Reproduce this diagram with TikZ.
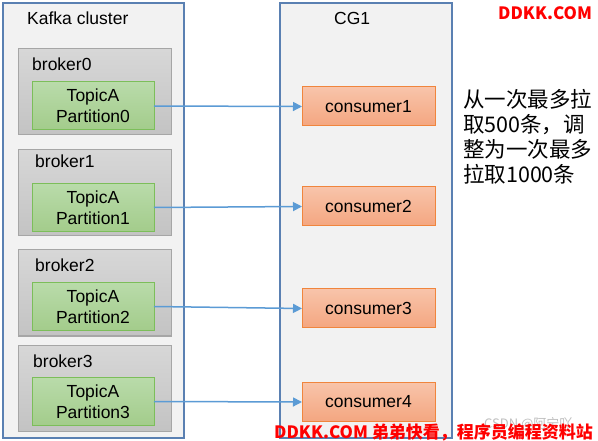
\documentclass[tikz,border=0pt]{standalone}
\usepackage{fontspec}
\setmainfont{Liberation Sans}
\newfontfamily\cjk{Noto Sans CJK SC}
\usetikzlibrary{arrows.meta}
\definecolor{clusterfill}{HTML}{F2F2F2}
\definecolor{clusterline}{HTML}{5A80B2}
\definecolor{brokertop}{HTML}{D7D7D7}
\definecolor{brokerbot}{HTML}{C3C3C3}
\definecolor{brokerline}{HTML}{A6A6A6}
\definecolor{parttop}{HTML}{B9DBAA}
\definecolor{partbot}{HTML}{A3CC8B}
\definecolor{partline}{HTML}{7CBE5A}
\definecolor{constop}{HTML}{F8C4AA}
\definecolor{consbot}{HTML}{F4A680}
\definecolor{consline}{HTML}{F0853D}
\definecolor{arrowblue}{HTML}{5B9BD5}
\definecolor{wmred}{HTML}{FF0000}
\tikzset{
  clusterbox/.style={draw=clusterline, line width=1.4pt, fill=clusterfill, inner sep=0pt, outer sep=0pt},
  brokerbox/.style={draw=brokerline, line width=1pt, top color=brokertop, bottom color=brokerbot, minimum width=153pt, minimum height=86pt, inner sep=0pt, outer sep=0pt},
  partbox/.style={draw=partline, line width=1pt, top color=parttop, bottom color=partbot, minimum width=122pt, minimum height=48pt, inner sep=0pt, outer sep=0pt, align=center, font=\fontsize{17.5}{21}\selectfont},
  consbox/.style={draw=consline, line width=1pt, top color=constop, bottom color=consbot, minimum width=133pt, minimum height=39pt, inner sep=0pt, outer sep=0pt, font=\fontsize{17.5}{21}\selectfont},
  lbl/.style={anchor=base west, inner sep=0pt, font=\fontsize{17.5}{21}\selectfont},
  cnl/.style={anchor=base west, inner sep=0pt, font=\cjk\fontsize{21.5}{25}\selectfont},
  flow/.style={draw=arrowblue, line width=1.5pt, -{Triangle[length=9pt,width=9pt]}},
  wm/.style={anchor=base west, inner sep=0pt, text=wmred, font=\cjk\bfseries\fontsize{17}{20}\selectfont}
}
\begin{document}
\begin{tikzpicture}[x=1pt,y=-1pt]
\useasboundingbox[fill=white] (0,0) rectangle (598,441);
% containers
\node[clusterbox, minimum width=181pt, minimum height=435pt] (kafka) at (93.5,220.5) {};
\node[clusterbox, minimum width=172pt, minimum height=435pt] (cg) at (366,220.5) {};
\node[lbl] (kafkalbl) at (27,25) {Kafka cluster};
\node[lbl] (cglbl) at (334,25) {CG1};
% brokers
\node[brokerbox] (b0) at (94.5,92) {};
\node[brokerbox] (b1) at (94.5,193) {};
\node[brokerbox] (b2) at (94.5,293) {};
\node[brokerbox] (b3) at (94.5,388) {};
\node[lbl] (b0l) at (32,71) {broker0};
\node[lbl] (b1l) at (35,168) {broker1};
\node[lbl] (b2l) at (35,272) {broker2};
\node[lbl] (b3l) at (33,367) {broker3};
% partitions
\node[partbox] (p0) at (93,106) {TopicA\\Partition0};
\node[partbox] (p1) at (93,207.5) {TopicA\\Partition1};
\node[partbox] (p2) at (93,306.5) {TopicA\\Partition2};
\node[partbox] (p3) at (93,401.5) {TopicA\\Partition3};
% consumers
\node[consbox] (c1) at (368.5,106.5) {consumer1};
\node[consbox] (c2) at (368.5,206.5) {consumer2};
\node[consbox] (c3) at (368.5,308.5) {consumer3};
\node[consbox] (c4) at (368.5,402) {consumer4};
% connectors
\draw[flow] (p0.east) -- (c1.west);
\draw[flow] (p1.east) -- (c2.west);
\draw[flow] (p2.east) -- (c3.west);
\draw[flow] (p3.east) -- (c4.west);
% note
\node[cnl] (n1) at (463,108) {从一次最多拉};
\node[cnl] (n2) at (463,133) {取500条，调};
\node[cnl] (n3) at (463,158) {整为一次最多};
\node[cnl] (n4) at (463,183) {拉取1000条};
% watermarks
\node[anchor=base west, inner sep=0pt, text=black!25, font=\cjk\fontsize{13}{15}\selectfont] (csdn) at (484,428) {CSDN @阿宁吖};
\node[wm] (wmtop) at (498,20) {DDKK.COM};
\node[wm] (wmbot) at (274,438) {DDKK.COM 弟弟快看，程序员编程资料站};
\end{tikzpicture}
\end{document}
